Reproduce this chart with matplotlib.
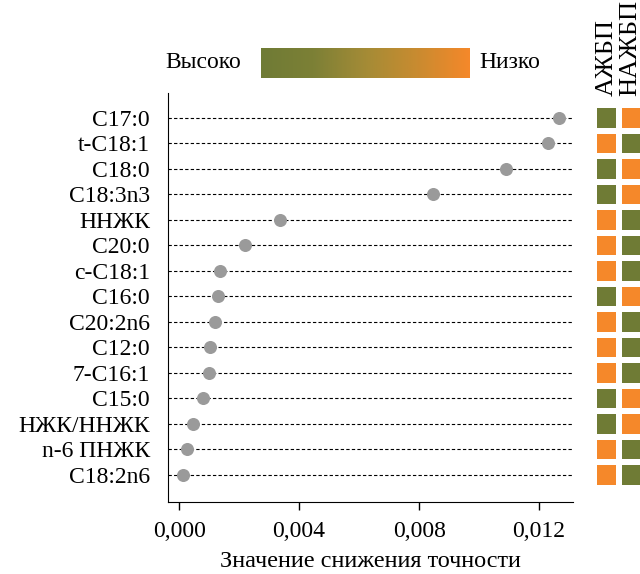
import numpy as np
import matplotlib
matplotlib.use("Agg")
import matplotlib.pyplot as plt
from matplotlib.colors import LinearSegmentedColormap

plt.rcParams['font.family'] = ['Liberation Serif', 'DejaVu Serif']

labels = ["C17:0", "t-C18:1", "C18:0", "C18:3n3", "ННЖК", "C20:0", "c-C18:1",
          "C16:0", "C20:2n6", "C12:0", "7-C16:1", "C15:0", "НЖК/ННЖК",
          "n-6 ПНЖК", "C18:2n6"]
values = [0.01267, 0.01230, 0.01090, 0.00847, 0.00337, 0.00220, 0.00137,
          0.00130, 0.00120, 0.00103, 0.00100, 0.00080, 0.00047, 0.00027, 0.00013]
# 'H' = high (green), 'L' = low (orange)
afld = ["H", "L", "H", "H", "L", "L", "L", "H", "L", "L", "L", "H", "H", "L", "L"]
nafld = ["L", "H", "L", "L", "H", "H", "H", "L", "H", "H", "H", "L", "L", "H", "H"]
group_names = ["АЖБП", "НАЖБП"]
xticks = [0.000, 0.004, 0.008, 0.012]
xticklabels = ["0,000", "0,004", "0,008", "0,012"]

GREEN = "#6f7b35"
ORANGE = "#f5882a"
cmap_col = {"H": GREEN, "L": ORANGE}

W, H = 640, 574
fig = plt.figure(figsize=(W / 100, H / 100), dpi=100)

def rect(x0, y0, x1, y1):
    return [x0 / W, 1 - y1 / H, (x1 - x0) / W, (y1 - y0) / H]

ax = fig.add_axes(rect(168, 93, 573, 502))
n = len(labels)
ypos = np.arange(n)[::-1]
for y in ypos:
    ax.axhline(y, color="black", lw=0.8, ls=(0, (3, 2)), zorder=1)
ax.scatter(values, ypos, s=70, color="#9a9a9a", zorder=3)
ax.set_ylim(-1.06, n - 1 + 0.98)
ax.set_xlim(-0.00037, 0.01313)
ax.set_yticks(ypos)
ax.set_yticklabels(labels, fontsize=17)
ax.tick_params(axis="y", length=0, pad=13)
ax.set_xticks(xticks)
ax.set_xticklabels(xticklabels, fontsize=17)
ax.tick_params(axis="x", length=6, width=1, pad=8)
ax.spines["top"].set_visible(False)
ax.spines["right"].set_visible(False)
ax.set_xlabel("Значение снижения точности", fontsize=17.5, labelpad=6)

# group squares
ax2 = fig.add_axes(rect(594, 93, 644, 502))
for j, grp in enumerate([afld, nafld]):
    ax2.scatter([j] * n, ypos, marker="s", s=190,
                c=[cmap_col[v] for v in grp], linewidths=0)
ax2.set_xlim(-0.5, 1.5)
ax2.set_ylim(ax.get_ylim())
ax2.axis("off")
for j, name in enumerate(group_names):
    fig.text((607 + 23 * j) / W, 1 - 96 / H, name, rotation=90,
             ha="center", va="bottom", fontsize=19)

# colour gradient legend
cax = fig.add_axes(rect(261, 48, 469, 78))
grad = LinearSegmentedColormap.from_list("g", [GREEN, "#7c8036", "#a48b36", "#c98b30", ORANGE])
cax.imshow(np.linspace(0, 1, 256)[None, :], aspect="auto", cmap=grad)
cax.axis("off")
fig.text(241 / W, 1 - 62 / H, "Высоко", ha="right", va="center", fontsize=17)
fig.text(479 / W, 1 - 62 / H, "Низко", ha="left", va="center", fontsize=17)

fig.savefig("out.png", dpi=100)
